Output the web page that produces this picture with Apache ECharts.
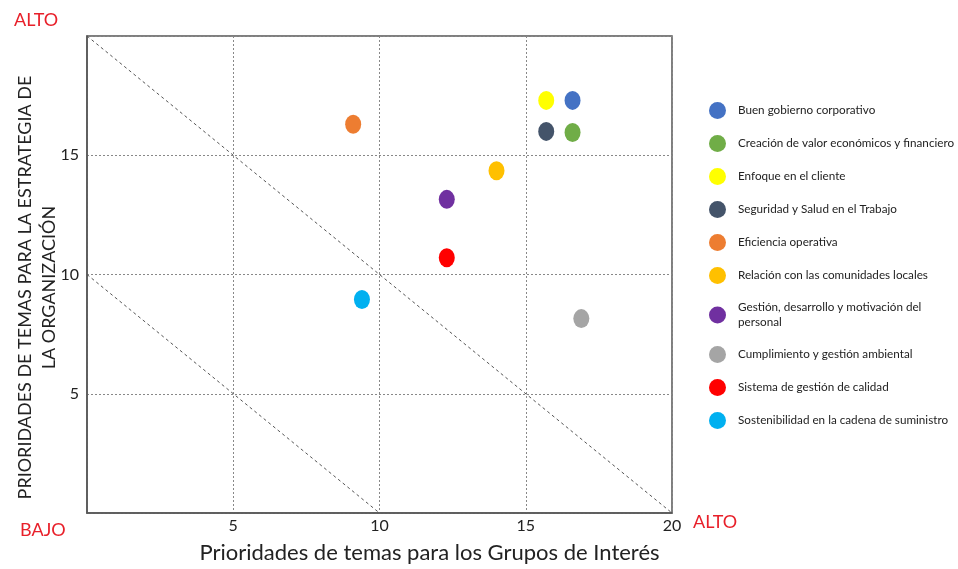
<!DOCTYPE html>
<html>
<head>
<meta charset="utf-8">
<script src="https://cdn.jsdelivr.net/npm/echarts@6/dist/echarts.min.js"></script>
<style>
  html, body { margin: 0; padding: 0; background: #fff; }
  #chart { width: 958px; height: 569px; }
</style>
</head>
<body>
<div id="chart"></div>
<script>
// temas materiales
const temas = [
  'Buen gobierno corporativo',
  'Creación de valor económicos y financiero',
  'Enfoque en el cliente',
  'Seguridad y Salud en el Trabajo',
  'Eficiencia operativa',
  'Relación con las comunidades locales',
  'Gestión, desarrollo y motivación del\npersonal',
  'Cumplimiento y gestión ambiental',
  'Sistema de gestión de calidad',
  'Sostenibilidad en la cadena de suministro'
];
// prioridad para los grupos de interés (eje x)
const prioridadGrupos = [16.6, 16.6, 15.7, 15.7, 9.1, 14.0, 12.3, 16.9, 12.3, 9.4];
// prioridad para la estrategia (eje y)
const prioridadEstrategia = [17.3, 15.95, 17.3, 16.0, 16.3, 14.35, 13.15, 8.15, 10.7, 8.95];

// diagonales de referencia
const diagonalAlta = [[0, 20], [20, 0]];
const diagonalBaja = [[0, 10], [10, 0]];

const xTicks = [5, 10, 15, 20];
const yTicks = [5, 10, 15];

const palette = ['#4472C4', '#70AD47', '#FFFF00', '#44546A', '#ED7D31',
                 '#FFC000', '#7030A0', '#A5A5A5', '#FF0000', '#00B0F0'];

const fuente = 'Lato, "Open Sans", sans-serif';

const chart = echarts.init(document.getElementById('chart'));

const puntos = temas.map((t, i) => ({
  name: t,
  type: 'scatter',
  symbol: 'circle',
  symbolSize: [16, 19],
  itemStyle: { color: palette[i], opacity: 1 },
  data: [[prioridadGrupos[i], prioridadEstrategia[i]]],
  z: 5
}));

const lineaDiag = (d) => ({
  type: 'line',
  data: d,
  symbol: 'none',
  silent: true,
  lineStyle: { color: '#555', width: 1, type: [3, 3] },
  z: 2
});

chart.setOption({
  animation: false,
  textStyle: { fontFamily: fuente },
  grid: { left: 87, right: 286, top: 36, bottom: 54, show: true, borderColor: '#555', borderWidth: 1.5 },
  legend: {
    orient: 'vertical',
    left: 704,
    top: 97,
    itemWidth: 17,
    itemHeight: 19,
    itemGap: 16,
    icon: 'circle',
    data: temas,
    textStyle: { fontSize: 11.7, color: '#222', fontFamily: fuente, padding: [0, 0, 0, 7], lineHeight: 15 }
  },
  xAxis: {
    type: 'value',
    min: 0, max: 20, interval: 5,
    name: 'Prioridades de temas para los Grupos de Interés',
    nameLocation: 'middle',
    nameGap: 29,
    nameMoveOverlap: false,
    nameTextStyle: { fontSize: 22, color: '#222', lineHeight: 22, padding: [0, 0, 0, 100] },
    axisLine: { show: true, lineStyle: { color: '#555', width: 1.5 } },
    axisTick: { show: false },
    axisLabel: {
      fontSize: 16, color: '#222', margin: 5,
      formatter: v => xTicks.includes(v) ? String(v) : ''
    },
    splitLine: { show: true, lineStyle: { color: '#888', type: [2, 2], width: 1 } }
  },
  yAxis: {
    type: 'value',
    min: 0, max: 20, interval: 5,
    name: 'PRIORIDADES DE TEMAS PARA LA ESTRATEGIA DE\nLA ORGANIZACIÓN',
    nameLocation: 'middle',
    nameGap: 26,
    nameMoveOverlap: false,
    nameTextStyle: { fontSize: 18, color: '#222', lineHeight: 24, padding: [0, 26, 0, 0] },
    axisLine: { show: true, lineStyle: { color: '#555', width: 1.5 } },
    axisTick: { show: false },
    axisLabel: {
      fontSize: 16, color: '#222', margin: 8,
      formatter: v => yTicks.includes(v) ? String(v) : ''
    },
    splitLine: { show: true, lineStyle: { color: '#888', type: [2, 2], width: 1 } }
  },
  graphic: [
    { type: 'text', left: 14, top: 11, style: { text: 'ALTO', fill: '#E8202A', font: '18px ' + fuente } },
    { type: 'text', left: 20, top: 521, style: { text: 'BAJO', fill: '#E8202A', font: '18px ' + fuente } },
    { type: 'text', left: 693, top: 513, style: { text: 'ALTO', fill: '#E8202A', font: '18px ' + fuente } }
  ],
  series: [lineaDiag(diagonalAlta), lineaDiag(diagonalBaja)].concat(puntos)
});

window.addEventListener('resize', () => chart.resize());
</script>
</body>
</html>
